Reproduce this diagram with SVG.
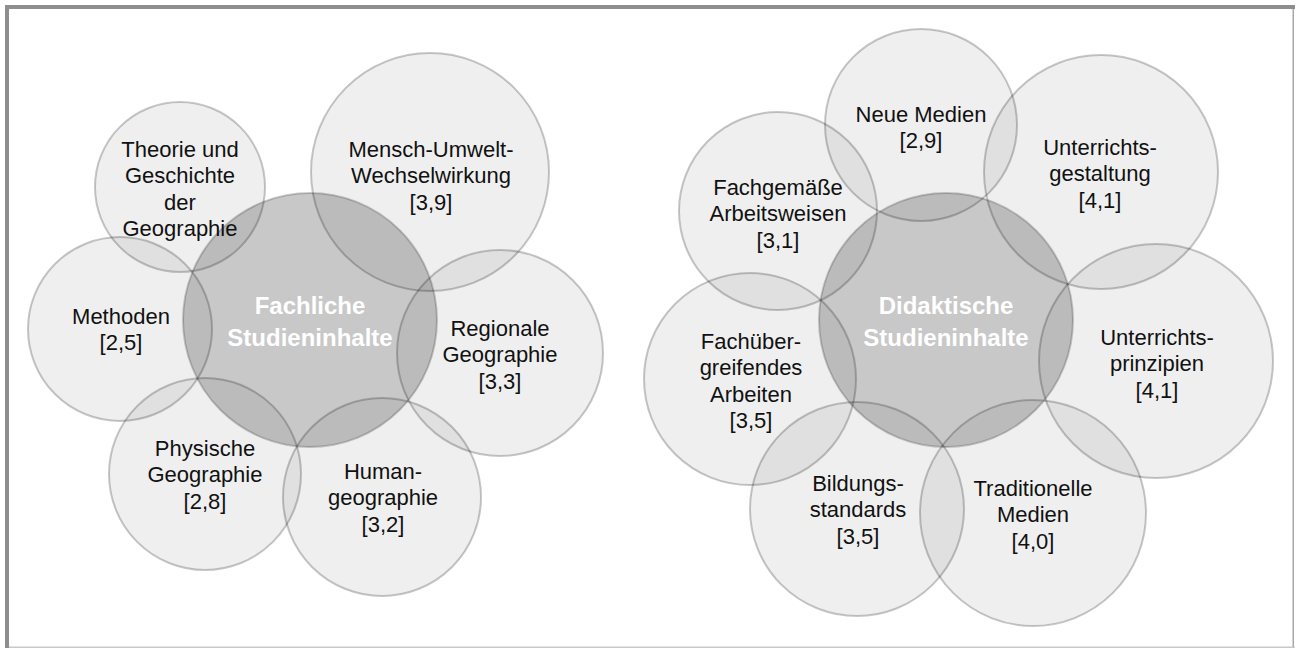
<svg xmlns="http://www.w3.org/2000/svg" width="1295" height="648" viewBox="0 0 1295 648">
<style>
.o{fill:#000;fill-opacity:0.063;stroke:#000;stroke-opacity:0.22;stroke-width:2}
.c{fill:#000;fill-opacity:0.216;stroke:#000;stroke-opacity:0.2;stroke-width:2}
.t{font-family:"Liberation Sans",Arial,sans-serif;font-size:22px;fill:#111;text-anchor:middle}
.h{font-family:"Liberation Sans",Arial,sans-serif;font-size:24px;font-weight:bold;fill:#fff;text-anchor:middle}
</style>
<rect x="0" y="0" width="1295" height="648" fill="#fff"/>
<g id="frame">
<rect x="5" y="5" width="1290" height="4" fill="#8e8e8e"/>
<rect x="5" y="5" width="4" height="643" fill="#8e8e8e"/>
<rect x="1292.5" y="9" width="1.5" height="639" fill="#a8a8a8"/>
<rect x="9" y="646.5" width="1286" height="1.5" fill="#c8c8c8"/>
</g>
<g id="connectors"/>
<g id="fachliche">
<circle class="c" cx="310" cy="320" r="127"/>
</g>
<g id="theorie"><circle class="o" cx="180" cy="187" r="85"/></g>
<g id="mensch"><circle class="o" cx="430" cy="172" r="119"/></g>
<g id="methoden"><circle class="o" cx="120" cy="329" r="92"/></g>
<g id="regionale"><circle class="o" cx="500" cy="353" r="103"/></g>
<g id="physische"><circle class="o" cx="205" cy="474" r="96"/></g>
<g id="human"><circle class="o" cx="382" cy="497" r="99"/></g>
<g id="didaktische">
<circle class="c" cx="946" cy="320" r="127"/>
</g>
<g id="neue"><circle class="o" cx="921" cy="125" r="96"/></g>
<g id="gestaltung"><circle class="o" cx="1101" cy="172" r="117"/></g>
<g id="fachgemaesse"><circle class="o" cx="778" cy="211" r="99"/></g>
<g id="fachuebergreifend"><circle class="o" cx="750" cy="379" r="106"/></g>
<g id="prinzipien"><circle class="o" cx="1156" cy="361" r="117"/></g>
<g id="bildung"><circle class="o" cx="857" cy="509" r="107"/></g>
<g id="traditionell"><circle class="o" cx="1033" cy="513" r="113"/></g>
<g id="labels">
<text class="h" x="310" y="314">Fachliche</text>
<text class="h" x="310" y="346">Studieninhalte</text>
<text class="t" x="180" y="157">Theorie und</text>
<text class="t" x="180" y="183.4">Geschichte</text>
<text class="t" x="180" y="209.8">der</text>
<text class="t" x="180" y="236.2">Geographie</text>
<text class="t" x="431" y="157">Mensch-Umwelt-</text>
<text class="t" x="431" y="183.4">Wechselwirkung</text>
<text class="t" x="431" y="209.8">[3,9]</text>
<text class="t" x="121" y="324">Methoden</text>
<text class="t" x="121" y="350.4">[2,5]</text>
<text class="t" x="500" y="336">Regionale</text>
<text class="t" x="500" y="362.4">Geographie</text>
<text class="t" x="500" y="388.8">[3,3]</text>
<text class="t" x="205" y="456">Physische</text>
<text class="t" x="205" y="482.4">Geographie</text>
<text class="t" x="205" y="508.8">[2,8]</text>
<text class="t" x="383" y="479">Human-</text>
<text class="t" x="383" y="505.4">geographie</text>
<text class="t" x="383" y="531.8">[3,2]</text>
<text class="h" x="946" y="314">Didaktische</text>
<text class="h" x="946" y="346">Studieninhalte</text>
<text class="t" x="921" y="122">Neue Medien</text>
<text class="t" x="921" y="148.4">[2,9]</text>
<text class="t" x="1100" y="155">Unterrichts-</text>
<text class="t" x="1100" y="181.4">gestaltung</text>
<text class="t" x="1100" y="207.8">[4,1]</text>
<text class="t" x="778" y="195">Fachgemäße</text>
<text class="t" x="778" y="221.4">Arbeitsweisen</text>
<text class="t" x="778" y="247.8">[3,1]</text>
<text class="t" x="751" y="349">Fachüber-</text>
<text class="t" x="751" y="375.4">greifendes</text>
<text class="t" x="751" y="401.8">Arbeiten</text>
<text class="t" x="751" y="428.2">[3,5]</text>
<text class="t" x="1157" y="345">Unterrichts-</text>
<text class="t" x="1157" y="371.4">prinzipien</text>
<text class="t" x="1157" y="397.8">[4,1]</text>
<text class="t" x="858" y="491">Bildungs-</text>
<text class="t" x="858" y="517.4">standards</text>
<text class="t" x="858" y="543.8">[3,5]</text>
<text class="t" x="1033" y="496">Traditionelle</text>
<text class="t" x="1033" y="522.4">Medien</text>
<text class="t" x="1033" y="548.8">[4,0]</text>
</g>
</svg>
